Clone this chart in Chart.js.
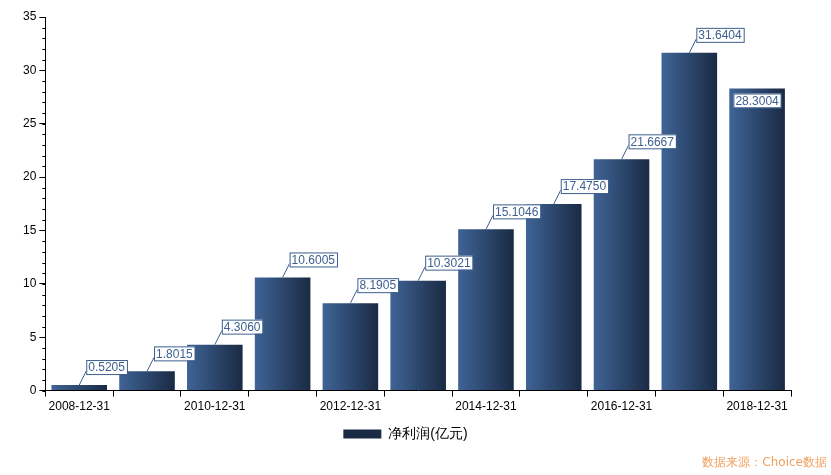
<!DOCTYPE html>
<html>
<head>
<meta charset="utf-8">
<script src="https://cdn.jsdelivr.net/npm/chart.js@4/dist/chart.umd.min.js"></script>
<style>
body { margin: 0; background: #fff; }
#wrap { position: relative; width: 831px; height: 475px; }
#fuente { position: absolute; right: 4px; bottom: 4px; font: 12px "DejaVu Sans", sans-serif; color: #f0a060; }
</style>
</head>
<body>
<div id="wrap">
<canvas id="myChart" width="831" height="475"></canvas>
<div id="fuente">数据来源：Choice数据</div>
</div>
<script>
// Datos
const fechas = ['2008-12-31', '2009-12-31', '2010-12-31', '2011-12-31', '2012-12-31', '2013-12-31',
    '2014-12-31', '2015-12-31', '2016-12-31', '2017-12-31', '2018-12-31'];
const beneficio = [0.5205, 1.8015, 4.3060, 10.6005, 8.1905, 10.3021, 15.1046, 17.4750, 21.6667, 31.6404, 28.3004];
const ticksY = [0, 5, 10, 15, 20, 25, 30, 35];
const serie = '净利润(亿元)';

const fuente = '12px "Liberation Sans", Arial, sans-serif';
const PCT_BARRA = 0.82;

// Degradado horizontal para cada barra
function colorBarra(context) {
    const chart = context.chart;
    const xs = chart.scales.x;
    if (!xs || !chart.chartArea || context.dataIndex === undefined) return '#2c4a70';
    const cx = xs.getPixelForValue(context.dataIndex);
    const w = xs.width / fechas.length * PCT_BARRA;
    const g = chart.ctx.createLinearGradient(cx - w / 2, 0, cx + w / 2, 0);
    g.addColorStop(0, '#3f6496');
    g.addColorStop(1, '#1a2a44');
    return g;
}

// Etiquetas + ticks menores
const plugBarras = {
    id: 'plugBarras',
    afterDatasetsDraw(chart) {
        const ctx = chart.ctx;
        ctx.save();
        ctx.font = fuente;
        ctx.textBaseline = 'middle';
        const meta = chart.getDatasetMeta(0);
        meta.data.forEach((el, i) => {
            const txt = beneficio[i].toFixed(4);
            const w = ctx.measureText(txt).width + 4;
            const h = 14;
            let bx, by;
            if (i === beneficio.length - 1) {
                bx = el.x - w / 2; by = el.y + 5;
            } else {
                ctx.strokeStyle = '#3d5f8f';
                ctx.lineWidth = 1;
                ctx.beginPath();
                ctx.moveTo(el.x, el.y);
                ctx.lineTo(el.x + 7, el.y - 14);
                ctx.stroke();
                bx = el.x + 7; by = el.y - 14 - h + 3;
            }
            ctx.fillStyle = '#fff';
            ctx.fillRect(bx, by, w, h);
            ctx.strokeStyle = '#3d5f8f';
            ctx.strokeRect(bx + 0.5, by + 0.5, w, h);
            ctx.fillStyle = '#3d5f8f';
            ctx.fillText(txt, bx + 2, by + h / 2 + 1);
        });
        const y = chart.scales.y;
        ctx.strokeStyle = '#000';
        ctx.beginPath();
        for (let v = 0; v <= 35; v++) {
            const py = Math.round(y.getPixelForValue(v)) + 0.5;
            ctx.moveTo(y.right - 3, py);
            ctx.lineTo(y.right, py);
        }
        ctx.stroke();
        ctx.restore();
    }
};

const ctx = document.getElementById('myChart').getContext('2d');
new Chart(ctx, {
    type: 'bar',
    data: {
        labels: fechas,
        datasets: [{
            label: serie,
            data: beneficio,
            backgroundColor: colorBarra,
            barPercentage: PCT_BARRA,
            categoryPercentage: 1
        }]
    },
    options: {
        responsive: false,
        animation: false,
        layout: { padding: { left: 20, right: 40, top: 17, bottom: 24 } },
        scales: {
            x: {
                grid: { drawOnChartArea: false, color: '#000', tickLength: 6, offset: true },
                border: { color: '#000' },
                ticks: {
                    autoSkip: false, maxRotation: 0, color: '#000', font: { size: 12, family: 'Liberation Sans' },
                    callback: function (v, i) { return i % 2 === 0 ? fechas[i] : ''; }
                }
            },
            y: {
                min: 0, max: 35,
                afterBuildTicks: s => { s.ticks = ticksY.map(v => ({ value: v })); },
                grid: { drawOnChartArea: false, color: '#000', tickLength: 6 },
                border: { color: '#000' },
                ticks: { color: '#000', font: { size: 12, family: 'Liberation Sans' } }
            }
        },
        plugins: {
            legend: {
                position: 'bottom',
                labels: { boxWidth: 38, boxHeight: 9, color: '#000', font: { size: 14, family: 'Liberation Sans' } }
            },
            tooltip: { enabled: false }
        }
    },
    plugins: [plugBarras]
});
</script>
</body>
</html>
